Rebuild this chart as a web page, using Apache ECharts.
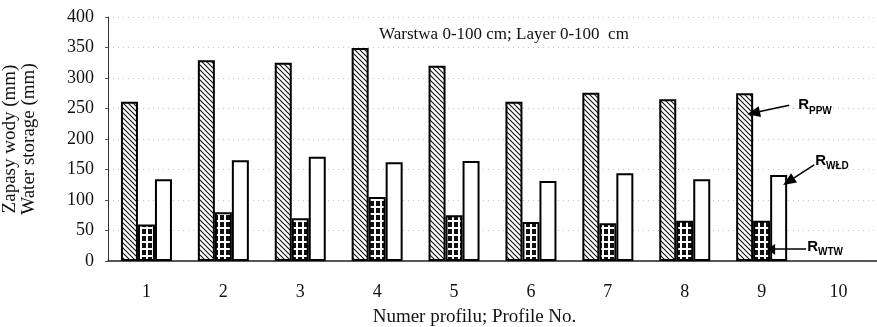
<!DOCTYPE html>
<html>
<head>
<meta charset="utf-8">
<script src="https://cdn.jsdelivr.net/npm/echarts@6/dist/echarts.min.js"></script>
<style>
  html, body { margin: 0; padding: 0; background: #fff; }
  #chart { width: 877px; height: 327px; }
</style>
</head>
<body>
<div id="chart"></div>
<script>
const categories = ['1', '2', '3', '4', '5', '6', '7', '8', '9', '10']
// R_PPW, R_WTW, R_WŁD (mm), profile 10 has no bars
const rppw = [261, 329, 325, 349, 320, 261, 276, 265, 275, null]
const rwtw = [60, 80, 70, 105, 75, 64, 62, 66, 66, null]
const rwld = [134, 165, 171, 162, 164, 131, 144, 134, 141, null]
const yTicks = [0, 50, 100, 150, 200, 250, 300, 350, 400]

const serif = '"Liberation Serif", "Times New Roman", serif'
const sans = '"Liberation Sans", Arial, sans-serif'

// fill patterns
const hatch = (function () {
    const s = 5
    const c = document.createElement('canvas')
    c.width = s; c.height = s
    const ctx = c.getContext('2d')
    ctx.fillStyle = '#fff'
    ctx.fillRect(0, 0, s, s)
    ctx.strokeStyle = '#111'
    ctx.lineWidth = 1.1
    ctx.beginPath()
    ctx.moveTo(-1, -1); ctx.lineTo(s + 1, s + 1)
    ctx.moveTo(-2, s - 2); ctx.lineTo(2, s + 2)
    ctx.moveTo(s - 2, -2); ctx.lineTo(s + 2, 2)
    ctx.stroke()
    return c
})()
const grid6 = (function () {
    const w = 6, h = 7
    const c = document.createElement('canvas')
    c.width = w; c.height = h
    const ctx = c.getContext('2d')
    ctx.fillStyle = '#111'
    ctx.fillRect(0, 0, w, h)
    ctx.fillStyle = '#fff'
    ctx.fillRect(2, 0, 2, h)
    ctx.fillRect(0, 3, w, 2)
    return c
})()

const chart = echarts.init(document.getElementById('chart'))
const barStyle = fill => ({
    color: fill,
    borderColor: '#000',
    borderWidth: 2
})

chart.setOption({
    animation: false,
    title: {
        text: 'Warstwa 0-100 cm; Layer 0-100  cm',
        left: 499,
        top: 21,
        textAlign: 'center',
        textStyle: { fontFamily: serif, fontSize: 17, fontWeight: 'normal', color: '#111' }
    },
    grid: { left: 108, right: 0, top: 17, bottom: 66, outerBoundsMode: 'none', containLabel: false },
    xAxis: {
        type: 'category',
        data: categories,
        name: 'Numer profilu; Profile No.',
        nameLocation: 'middle',
        nameGap: 47,
        nameTextStyle: { fontFamily: serif, fontSize: 19, color: '#111', padding: [0, 36, 0, 0] },
        axisLine: { lineStyle: { color: '#222', width: 1.5 } },
        axisTick: { show: false },
        axisLabel: { fontFamily: serif, fontSize: 18, color: '#111', margin: 22 }
    },
    yAxis: {
        type: 'value',
        min: yTicks[0],
        max: yTicks[yTicks.length - 1],
        interval: 50,
        name: 'Zapasy wody (mm)\nWater storage (mm)',
        nameLocation: 'middle',
        nameRotate: 90,
        nameGap: 69,
        nameTextStyle: { fontFamily: serif, fontSize: 19, color: '#111', lineHeight: 19 },
        axisLine: { show: true, lineStyle: { color: '#333', width: 1 } },
        axisTick: { show: true, length: 3, lineStyle: { color: '#555' } },
        axisLabel: { fontFamily: serif, fontSize: 18, color: '#111', margin: 14 },
        splitLine: { lineStyle: { color: '#c4c4c4', type: [1, 4], width: 1 } }
    },
    series: [
        { name: 'RPPW', type: 'bar', data: rppw, barWidth: 17, barGap: '0%', itemStyle: barStyle({ image: hatch, repeat: 'repeat' }) },
        { name: 'RWTW', type: 'bar', data: rwtw, barWidth: 17, barGap: '0%', itemStyle: barStyle({ image: grid6, repeat: 'repeat' }) },
        { name: 'RWLD', type: 'bar', data: rwld, barWidth: 17, barGap: '0%', itemStyle: barStyle('#fff') }
    ]
})

// annotation arrows pointing at profile 9 bars
const layoutOf = (si, idx) => {
    const l = chart.getModel().getSeriesByIndex(si).getData().getItemLayout(idx)
    return { x: l.x, w: l.width, top: Math.min(l.y, l.y + l.height), base: Math.max(l.y, l.y + l.height) }
}
const arrow = (x1, y1, x2, y2, headLen, headW) => {
    const a = Math.atan2(y2 - y1, x2 - x1)
    const bx = x2 - headLen * Math.cos(a), by = y2 - headLen * Math.sin(a)
    const nx = -Math.sin(a) * headW / 2, ny = Math.cos(a) * headW / 2
    return [
        { type: 'line', shape: { x1, y1, x2: bx, y2: by }, style: { stroke: '#000', lineWidth: 1.5 }, z: 100 },
        { type: 'polygon', shape: { points: [[x2, y2], [bx + nx, by + ny], [bx - nx, by - ny]] }, style: { fill: '#000' }, z: 100 }
    ]
}
const label = (x, y, sub) => ({
    type: 'text',
    x, y,
    z: 100,
    style: {
        text: '{r|R}{s|' + sub + '}',
        rich: {
            r: { fontFamily: sans, fontSize: 15, fontWeight: 'bold', fill: '#000', verticalAlign: 'bottom' },
            s: { fontFamily: sans, fontSize: 10, fontWeight: 'bold', fill: '#000', verticalAlign: 'bottom', padding: [0, 0, -3, 0] }
        },
        verticalAlign: 'middle'
    }
})

const k = 8
const p = layoutOf(0, k), t = layoutOf(1, k), d = layoutOf(2, k)
const graphics = []
// R_PPW
graphics.push(...arrow(p.x + p.w + 36, p.top + 12, p.x + p.w * 0.65, p.top + 21, 13, 11))
graphics.push(label(p.x + p.w + 45, p.top + 12, 'PPW'))
// R_WŁD
graphics.push(...arrow(d.x + d.w + 27, d.top - 10, d.x + d.w - 4, d.top + 10, 13, 11))
graphics.push(label(d.x + d.w + 28, d.top - 14, 'WŁD'))
// R_WTW
graphics.push({ type: 'line', shape: { x1: t.x + t.w + 2, y1: t.base - 12, x2: t.x + t.w + 36, y2: t.base - 12 }, style: { stroke: '#000', lineWidth: 1.5 }, z: 100 })
graphics.push({ type: 'polygon', shape: { points: [[t.x + t.w - 3, t.base - 12], [t.x + t.w + 5, t.base - 17], [t.x + t.w + 5, t.base - 6]] }, style: { fill: '#000' }, z: 100 })
graphics.push(label(t.x + t.w + 37, t.base - 14, 'WTW'))

chart.setOption({ graphic: graphics })
</script>
</body>
</html>
